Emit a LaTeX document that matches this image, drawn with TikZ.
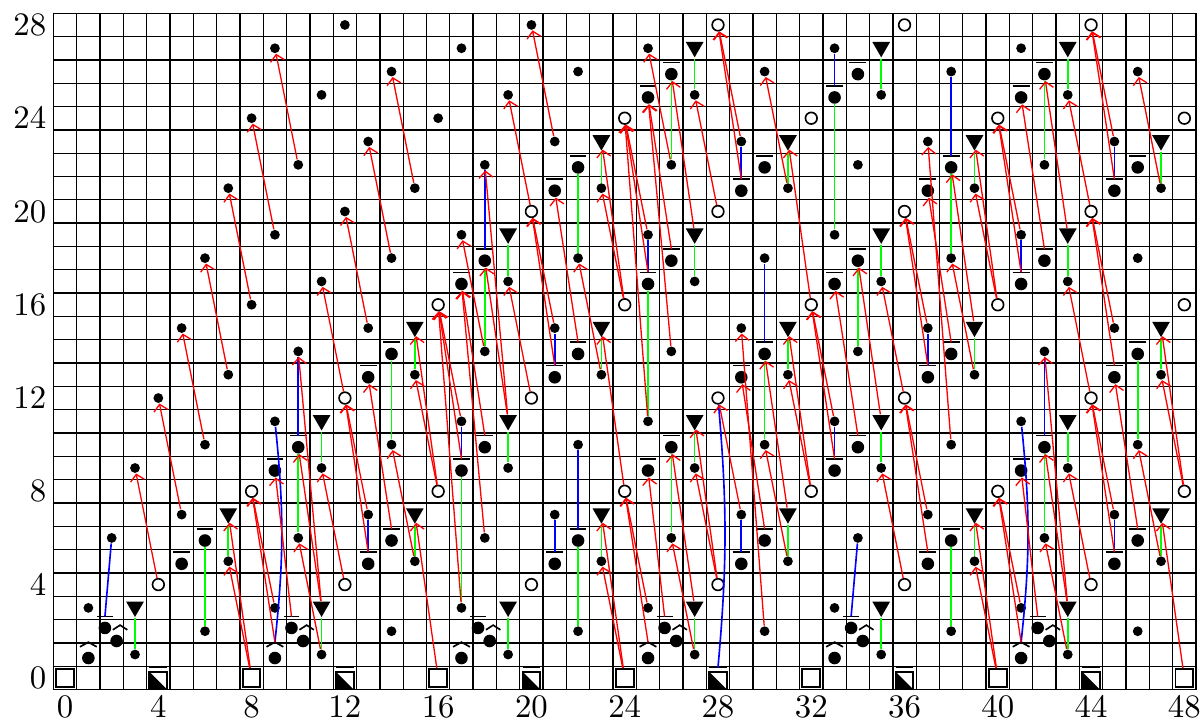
\documentclass[tikz,border=0pt]{standalone}
\usetikzlibrary{arrows.meta, shapes.geometric}

\begin{document}
\begin{tikzpicture}[
    x=0.25cm, y=0.25cm,
    zd/.style={circle, fill, inner sep=0pt, minimum size=1.05mm},
    bd/.style={circle, fill, inner sep=0pt, minimum size=1.35mm},
    oc/.style={circle, draw, line width=0.5pt, fill=white, inner sep=0pt, minimum size=1.25mm},
    tr/.style={regular polygon, regular polygon sides=3, shape border rotate=180, fill, inner sep=0pt, minimum size=2.2mm},
    sq/.style={rectangle, draw, line width=0.6pt, fill=white, inner sep=0pt, minimum size=1.9mm},
    hs/.style={sq, path picture={\fill[black] (path picture bounding box.north west) -- (path picture bounding box.south west) -- (path picture bounding box.south east) -- cycle;}},
    bar/.style={line width=0.5pt},
    dif/.style={red, line width=0.4pt, -{Straight Barb[length=0.7mm, width=1.5mm]}},
    res/.style={green, line width=0.5pt},
    tra/.style={blue, line width=0.5pt}
]
\useasboundingbox (-2.79,-1.92) rectangle (48.8,29.07);

% grid and axes
\foreach \i in {0,...,49} \draw[line width=0.4pt] (\i-0.5,-0.5) -- (\i-0.5,28.5);
\foreach \j in {0,...,29} \draw[line width=0.4pt] (-0.5,\j-0.5) -- (48.5,\j-0.5);
\foreach \x in {0,4,...,48} \node[anchor=north, inner sep=0pt] (xl\x) at (\x,-0.78) {$\x$};
\foreach \y in {0,4,...,28} \node[anchor=east, inner sep=0pt] (yl\y) at (-0.78,\y) {$\y$};

% ============ E_2 TERM ============
% Z and Z_- in filtration 0
\foreach \x in {0,8,...,48} \node[sq] (p\x-0) at (\x,0) {};
\foreach \x in {4,12,...,44} {
    \node[hs] (p\x-0) at (\x,-0.12) {};
    \draw[bar] (\x-0.38,0.44) -- (\x+0.38,0.44);
    \coordinate (b\x-0) at (\x,0.44);
}

% hatted dots
\foreach \x in {1,9,...,41} {
    \node[bd] (p\x-1) at (\x,0.85) {};
    \draw[bar] (\x-0.36,1.33) -- (\x,1.53) -- (\x+0.36,1.33);
    \coordinate (h\x-1) at (\x,1.53);
}

% pairs in filtration 2
\foreach \x in {2,10,...,42} {
    \node[bd] (p\x-2) at (\x-0.29,2.14) {};
    \draw[bar] (\x-0.63,2.63) -- (\x+0.05,2.63);
    \coordinate (b\x-2) at (\x-0.29,2.63);
    \node[bd] (q\x-2) at (\x+0.21,1.58) {};
    \draw[bar] (\x+0.05,2.06) -- (\x+0.36,2.26) -- (\x+0.67,2.06);
}

% barred dots
\foreach \x/\y in {9/9, 17/9, 17/17, 25/9, 25/17, 25/25, 33/9, 33/17, 33/25, 41/9, 41/17, 41/25,
    10/10, 18/10, 18/18, 26/10, 26/18, 26/26, 34/10, 34/18, 34/26, 42/10, 42/18, 42/26,
    5/5, 13/5, 13/13, 21/5, 21/13, 21/21, 29/5, 29/13, 29/21, 37/5, 37/13, 37/21, 45/5, 45/13, 45/21,
    6/6, 14/6, 14/14, 22/6, 22/14, 22/22, 30/6, 30/14, 30/22, 38/6, 38/14, 38/22, 46/6, 46/14, 46/22} {
    \node[bd] (p\x-\y) at (\x,\y-0.11) {};
    \draw[bar] (\x-0.36,\y+0.39) -- (\x+0.36,\y+0.39);
    \coordinate (b\x-\y) at (\x,\y+0.39);
}

% open circles
\foreach \x/\y in {8/8, 16/8, 16/16, 24/8, 24/16, 24/24, 32/8, 32/16, 32/24, 40/8, 40/16, 40/24, 48/8, 48/16, 48/24,
    4/4, 12/4, 12/12, 20/4, 20/12, 20/20, 28/4, 28/12, 28/20, 28/28, 36/4, 36/12, 36/20, 36/28, 44/4, 44/12, 44/20, 44/28}
    \node[oc] (p\x-\y) at (\x,\y) {};

% triangles
\foreach \x/\y in {3/3, 11/3, 11/11, 19/3, 19/11, 19/19, 27/3, 27/11, 27/19, 27/27, 35/3, 35/11, 35/19, 35/27, 43/3, 43/11, 43/19, 43/27,
    7/7, 15/7, 15/15, 23/7, 23/15, 23/23, 31/7, 31/15, 31/23, 39/7, 39/15, 39/23, 47/7, 47/15, 47/23}
    \node[tr] (p\x-\y) at (\x,\y+0.05) {};

% plain dots
\foreach \x/\y in {1/3, 9/3, 9/11, 17/3, 17/11, 17/19, 25/3, 25/11, 25/19, 25/27, 33/3, 33/11, 33/19, 33/27, 41/3, 41/11, 41/19, 41/27,
    2/6, 10/6, 10/14, 18/6, 18/14, 18/22, 26/6, 26/14, 26/22, 34/6, 34/14, 34/22, 42/6, 42/14, 42/22,
    3/1, 11/1, 11/9, 19/1, 19/9, 19/17, 27/1, 27/9, 27/17, 27/25, 35/1, 35/9, 35/17, 35/25, 43/1, 43/9, 43/17, 43/25,
    5/7, 13/7, 13/15, 21/7, 21/15, 21/23, 29/7, 29/15, 29/23, 37/7, 37/15, 37/23, 45/7, 45/15, 45/23,
    6/2, 14/2, 14/10, 22/2, 22/10, 22/18, 30/2, 30/10, 30/18, 30/26, 38/2, 38/10, 38/18, 38/26, 46/2, 46/10, 46/18, 46/26,
    7/5, 15/5, 15/13, 23/5, 23/13, 23/21, 31/5, 31/13, 31/21, 39/5, 39/13, 39/21, 47/5, 47/13, 47/21,
    3/9, 4/12, 5/15, 6/18, 7/21, 8/24, 9/27, 6/10, 7/13, 8/16, 9/19, 10/22, 11/25, 12/28,
    11/17, 12/20, 13/23, 14/26, 14/18, 15/21, 16/24, 17/27, 19/25, 20/28, 22/26}
    \node[zd] (p\x-\y) at (\x,\y) {};

% ============ EXOTIC RESTRICTIONS ============
\foreach \a/\b in {3-1/3-3, 11-1/11-3, 11-9/11-11, 19-1/19-3, 19-9/19-11, 19-17/19-19,
    27-1/27-3, 27-9/27-11, 27-17/27-19, 27-25/27-27, 35-1/35-3, 35-9/35-11, 35-17/35-19, 35-25/35-27,
    43-1/43-3, 43-9/43-11, 43-17/43-19, 43-25/43-27,
    7-5/7-7, 15-5/15-7, 15-13/15-15, 23-5/23-7, 23-13/23-15, 23-21/23-23, 31-5/31-7, 31-13/31-15, 31-21/31-23,
    39-5/39-7, 39-13/39-15, 39-21/39-23, 47-5/47-7, 47-13/47-15, 47-21/47-23,
    6-2/6-6, 22-2/22-6, 38-2/38-6, 14-10/14-14, 30-10/30-14, 46-10/46-14, 22-18/22-22, 38-18/38-22,
    10-6/10-10, 26-6/26-10, 42-6/42-10, 18-14/18-18, 34-14/34-18, 26-22/26-26, 42-22/42-26,
    17-3/17-9, 25-11/25-17, 33-19/33-25}
    \draw[res] (p\a) -- (p\b);

% ============ EXOTIC TRANSFERS ============
\foreach \a/\b in {2-2/2-6, 34-2/34-6, 10-10/10-14, 42-10/42-14, 18-18/18-22,
    22-6/22-10, 30-14/30-18, 38-22/38-26,
    13-5/13-7, 21-5/21-7, 29-5/29-7, 45-5/45-7, 21-13/21-15, 37-13/37-15, 29-21/29-23, 45-21/45-23,
    17-9/17-11, 33-9/33-11, 25-17/25-19, 41-17/41-19, 33-25/33-27}
    \draw[tra] (b\a) -- (p\b);
\draw[tra] (h9-1) to[bend right=6] (p9-11);
\draw[tra] (h41-1) to[bend right=6] (p41-11);
\draw[tra] (b28-0) to[bend right=5] (p28-12);

% ============ DIFFERENTIALS ============
% d5
\foreach \a/\b in {4-4/3-9, 5-7/4-12, 6-10/5-15, 7-13/6-18, 8-16/7-21, 9-19/8-24, 10-22/9-27,
    8-0/7-5, 9-3/8-8, 25-3/24-8, 41-3/40-8, 12-12/11-17, 13-15/12-20, 14-18/13-23, 15-21/14-26,
    20-20/19-25, 21-23/20-28, 20-12/19-17, 12-4/11-9, 28-20/27-25, 44-4/43-9, 17-11/16-16, 25-19/24-24,
    36-4/35-9, 44-12/43-17, 28-4/27-9, 36-12/35-17, 44-20/43-25,
    33-11/32-16, 41-19/40-24, 13-7/12-12, 37-7/36-12, 45-7/44-12, 21-15/20-20, 29-23/28-28, 45-15/44-20,
    45-23/44-28, 37-15/36-20, 29-7/28-12,
    16-8/15-13, 24-16/23-21, 24-0/23-5, 32-8/31-13, 40-16/39-21, 40-0/39-5, 48-8/47-13,
    11-1/10-6, 27-1/26-6, 43-1/42-6, 18-14/17-19, 26-22/25-27,
    15-5/14-10, 23-13/22-18, 31-21/30-26, 31-5/30-10, 39-13/38-18, 47-5/46-10, 47-21/46-26}
    \draw[dif] (p\a) -- (p\b);
% d7
\foreach \a/\b in {8-0/7-7, 16-8/15-15, 24-16/23-23, 16-0/15-7, 24-8/23-15, 32-16/31-23,
    24-0/23-7, 32-8/31-15, 40-16/39-23, 40-0/39-7, 48-8/47-15, 48-0/47-7,
    11-3/10-10, 19-11/18-18, 27-3/26-10, 35-11/34-18, 43-3/42-10, 27-19/26-26, 43-19/42-26,
    31-7/30-14, 39-15/38-22, 28-4/27-11}
    \draw[dif] (p\a) -- (p\b);
\foreach \a/\b in {9-1/8-8, 25-1/24-8, 41-1/40-8}
    \draw[dif] (h\a) -- (p\b);
\foreach \a/\b in {10-2/9-9, 26-2/25-9, 42-2/41-9, 18-10/17-17, 34-10/33-17, 26-18/25-25, 42-18/41-25,
    17-9/16-16, 33-9/32-16, 25-17/24-24, 41-17/40-24, 14-6/13-13, 22-14/21-21, 30-6/29-13, 38-14/37-21, 46-6/45-13,
    13-5/12-12, 21-13/20-20, 29-21/28-28, 45-5/44-12, 45-13/44-20, 45-21/44-28, 37-5/36-12, 37-13/36-20}
    \draw[dif] (b\a) -- (p\b);
% d11 and d13
\foreach \a/\b in {11-3/10-14, 19-11/18-22, 43-3/42-14, 18-6/17-17, 26-14/25-25,
    30-2/29-15, 38-10/37-23, 17-3/16-16, 25-11/24-24}
    \draw[dif] (p\a) -- (p\b);

\end{tikzpicture}
\end{document}
